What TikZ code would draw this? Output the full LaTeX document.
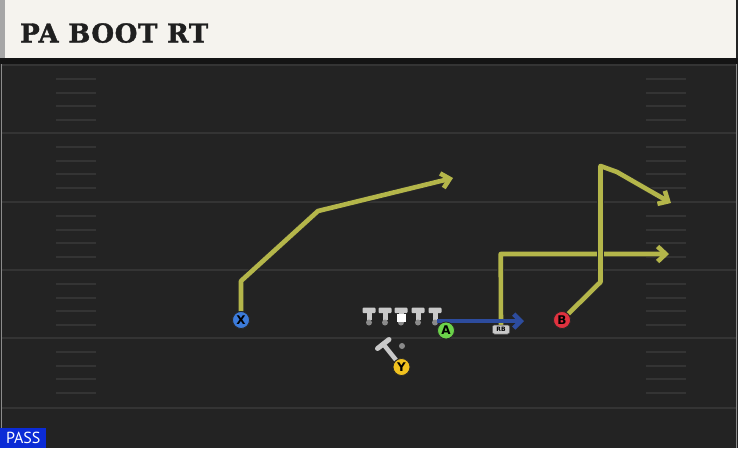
\documentclass[tikz,border=0pt]{standalone}
\usepackage{fontspec}
\setmainfont{DejaVu Serif}
\newfontfamily\titlefont[FakeBold=1.5,LetterSpace=2.5]{DejaVu Serif Bold}
\newfontfamily\passfont{PT Sans}
\newfontfamily\markfont{DejaVu Sans}
\usetikzlibrary{arrows.meta,positioning}

\definecolor{fieldbg}{HTML}{232323}
\definecolor{headbg}{HTML}{F5F3EE}
\definecolor{lineclr}{HTML}{343434}
\definecolor{routeclr}{HTML}{B4B64A}
\definecolor{runclr}{HTML}{2D4C9E}
\definecolor{olclr}{HTML}{C9C9C9}
\definecolor{dotclr}{HTML}{8A8A8A}
\definecolor{xclr}{HTML}{3C7BDA}
\definecolor{aclr}{HTML}{6BD24A}
\definecolor{bclr}{HTML}{E0323F}
\definecolor{yclr}{HTML}{F1C21F}
\definecolor{passclr}{HTML}{0B2BD6}

\begin{document}
\begin{tikzpicture}[x=1pt,y=-1pt]

\useasboundingbox (0,0) rectangle (738,448);

\begin{scope}[player/.style={circle,draw=black!85,line width=.8,minimum size=17,inner sep=0,font=\markfont\bfseries\fontsize{12}{12}\selectfont},
  yard/.style={lineclr,line width=1.6},hash/.style={lineclr,line width=1.2},
  routeback/.style={black!85,line width=6.8,line join=round,-{Straight Barb[length=8,width=16]}},
  route/.style={routeclr,line width=4.6,line join=round,-{Straight Barb[length=8,width=15]}},
  run/.style={runclr,line width=4.6,-{Straight Barb[length=7,width=14]}},
  rbtag/.style={rectangle,rounded corners=2,fill=olclr,draw=black!70,line width=.5,minimum width=17,minimum height=9,inner sep=0,font=\markfont\bfseries\fontsize{6}{6}\selectfont}]

% field
\fill[fieldbg] (0,0) rectangle (738,448);
\fill[headbg] (0,0) rectangle (736,58);
\fill[gray!70] (0,0) rectangle (5,58);
\fill[black!92] (0,58) rectangle (738,64);
\draw[black!45,line width=1] (1.5,64) -- (1.5,448);
\draw[black!45,line width=1] (736,64) -- (736,448);

\foreach \y in {65,133,202,270,338,408}
  \draw[yard] (2,\y) -- (736,\y);
\foreach \y in {65,133,202,270,338}
  \foreach \d in {14,28,41,55} {
    \draw[hash] (56,\y+\d) -- (96,\y+\d);
    \draw[hash] (646,\y+\d) -- (686,\y+\d);
  }

% title
\node[anchor=base west,inner sep=0,text=black!88,font=\titlefont\fontsize{26}{26}\selectfont] (title) at (20,42.5) {PA BOOT RT};

% line
\foreach \x in {369,385,401,418,435} {
  \fill[olclr,rounded corners=1] (\x-6.5,307.5) rectangle (\x+6.5,313);
  \fill[olclr] (\x-2.5,312) rectangle (\x+2.5,320);
  \fill[dotclr] (\x,322.5) circle (3);
}
\fill[white] (397,314) rectangle (406,322);

% route points
\coordinate (x1) at (241,281);
\coordinate (x2) at (318,211);
\coordinate (x3) at (453,178);
\coordinate (r1) at (500.7,254);
\coordinate (r2) at (669,254);
\coordinate (b1) at (600.5,282);
\coordinate (b2) at (600.5,166);
\coordinate (b3) at (617,172);
\coordinate (b4) at (671,203);
\coordinate (a0) at (437,321);
\coordinate (a1) at (524,321);

% Nodes
\node[player,fill=xclr] (x) at (241,320) {X};
\node[player,fill=bclr] (b) at (562,320) {B};
\node[player,fill=aclr] (a) at (446,330.5) {A};
\node[player,fill=yclr] (y) at (401.5,367) {Y};
\node[rbtag] (rb) at (501,329.5) {RB};

%arcs
\draw[routeback] (x) -- (x1) -- (x2) -- (x3);
\draw[route] (x) -- (x1) -- (x2) -- (x3);
\draw[routeback] (rb) -- (r1) -- (r2);
\draw[route] (rb) -- (r1) -- (r2);
\draw[routeback] (b) -- (b1) -- (b2) -- (b3) -- (b4);
\draw[route] (b) -- (b1) -- (b2) -- (b3) -- (b4);
\draw[run] (a0) -- (a1);

% qb
\draw[olclr,line width=4.5] (384,345) -- (396,360);
\draw[olclr,line width=5,line cap=round] (377.5,348.5) -- (389,339.5);
\fill[dotclr] (402,346) circle (3);

% players on top
\node[player,fill=xclr] at (x) {X};
\node[player,fill=bclr] at (b) {B};
\node[player,fill=aclr] at (a) {A};
\node[player,fill=yclr] at (y) {Y};
\node[rbtag] at (rb) {RB};

\node[anchor=south west,fill=passclr,text=white,minimum width=46,minimum height=20,inner sep=0,font=\passfont\fontsize{16}{16}\selectfont] (play) at (0,448) {PASS};

\end{scope}

\end{tikzpicture}
\end{document}
